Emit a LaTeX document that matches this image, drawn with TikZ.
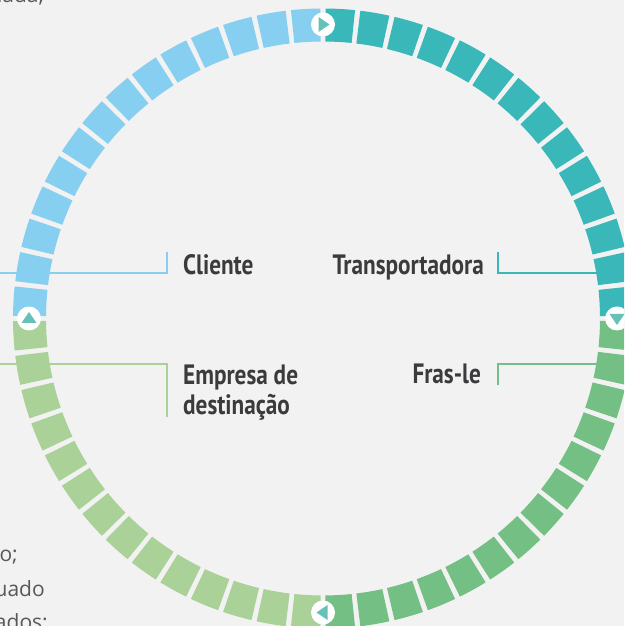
\documentclass[tikz,border=0pt]{standalone}
\usepackage{fontspec}
\setmainfont{PT Sans}
\newfontfamily\labfont[FakeStretch=0.83]{PT Sans}
\newfontfamily\bodyfont{Open Sans}
\definecolor{bg}{HTML}{F2F2F2}
\definecolor{cteal}{HTML}{3AB7B9}
\definecolor{cblue}{HTML}{87CFF0}
\definecolor{clgreen}{HTML}{AAD198}
\definecolor{cgreen}{HTML}{74BF84}
\definecolor{ctri}{HTML}{66C1B9}
\definecolor{ctext}{HTML}{3B3B3D}
\definecolor{cbody}{HTML}{58585A}
\begin{document}
\begin{tikzpicture}[x=1pt,y=1pt,
  lab/.style={inner sep=0pt, text=ctext, font=\labfont\bfseries\fontsize{28}{30}\selectfont},
  body/.style={inner sep=0pt, text=cbody, font=\bodyfont\fontsize{21}{26}\selectfont},
  bracket/.style={line width=2pt},
  marker/.style={circle, fill=white, minimum size=24pt, inner sep=0pt},
  tri/.style={fill=ctri}]
\useasboundingbox (0,0) rectangle (624,626);
\fill[bg] (0,0) rectangle (624,626);
\clip (0,0) rectangle (624,626);

% partial body texts at left edge (cut off by the frame)
\node[body, anchor=base east] (t0) at (44,623.3) {uada,};
\node[body, anchor=base east] (t1) at (18,64) {o;};
\node[body, anchor=base east] (t2) at (45,29) {uado};
\node[body, anchor=base east] (t3) at (48,-3) {ados:};

% labels
\node[lab, anchor=base west] (cli) at (183,351) {Cliente};
\node[lab, anchor=base east] (tra) at (484,351) {Transportadora};
\node[lab, anchor=base east] (fra) at (481,242) {Fras-le};
\node[lab, anchor=base west] (emp1) at (183,241) {Empresa de};
\node[lab, anchor=base west] (emp2) at (183,211) {destinação};

% bracket connectors
\coordinate (cliA) at (166.5,373.5);
\coordinate (cliB) at (166.5,353);
\coordinate (cliC) at (-5,353);
\draw[bracket, cblue] (cliA) -- (cliB) -- (cliC);
\coordinate (traA) at (498,373.5);
\coordinate (traB) at (498,353);
\coordinate (traC) at (612,353);
\draw[bracket, cteal] (traA) -- (traB) -- (traC);
\coordinate (fraA) at (498,241);
\coordinate (fraB) at (498,262);
\coordinate (fraC) at (612,262);
\draw[bracket, cgreen] (fraA) -- (fraB) -- (fraC);
\coordinate (empA) at (166.5,209);
\coordinate (empB) at (166.5,262);
\coordinate (empC) at (-5,262);
\draw[bracket, clgreen] (empA) -- (empB) -- (empC);

% ring of segments
\begin{scope}[shift={(323,307.5)}]
\foreach \k in {0,...,55}{
  \pgfmathsetmacro\a{(\k+0.5)*6.4285714}
  \pgfmathtruncatemacro\q{int(\k/14)}
  \ifcase\q \def\col{cteal}\or \def\col{cblue}\or \def\col{clgreen}\else \def\col{cgreen}\fi
  \fill[\col] (\a-2.72:277pt) -- (\a-2.72:310pt)
     arc[start angle=\a-2.72, end angle=\a+2.72, radius=310pt]
     -- (\a+2.72:277pt)
     arc[start angle=\a+2.72, end angle=\a-2.72, radius=277pt] -- cycle;
}
\node[marker] (mtop) at (90:294pt) {};
\node[marker] (mright) at (0:294pt) {};
\node[marker] (mbot) at (270:294pt) {};
\node[marker] (mleft) at (180:294pt) {};
\fill[tri, shift={(mtop.center)}, rotate=0] (-4.5,7.5) -- (-4.5,-7.5) -- (6.5,0) -- cycle;
\fill[tri, shift={(mright.center)}, rotate=-90] (-4.5,7.5) -- (-4.5,-7.5) -- (6.5,0) -- cycle;
\fill[tri, shift={(mbot.center)}, rotate=180] (-4.5,7.5) -- (-4.5,-7.5) -- (6.5,0) -- cycle;
\fill[tri, shift={(mleft.center)}, rotate=90] (-4.5,7.5) -- (-4.5,-7.5) -- (6.5,0) -- cycle;
\end{scope}
\end{tikzpicture}
\end{document}
